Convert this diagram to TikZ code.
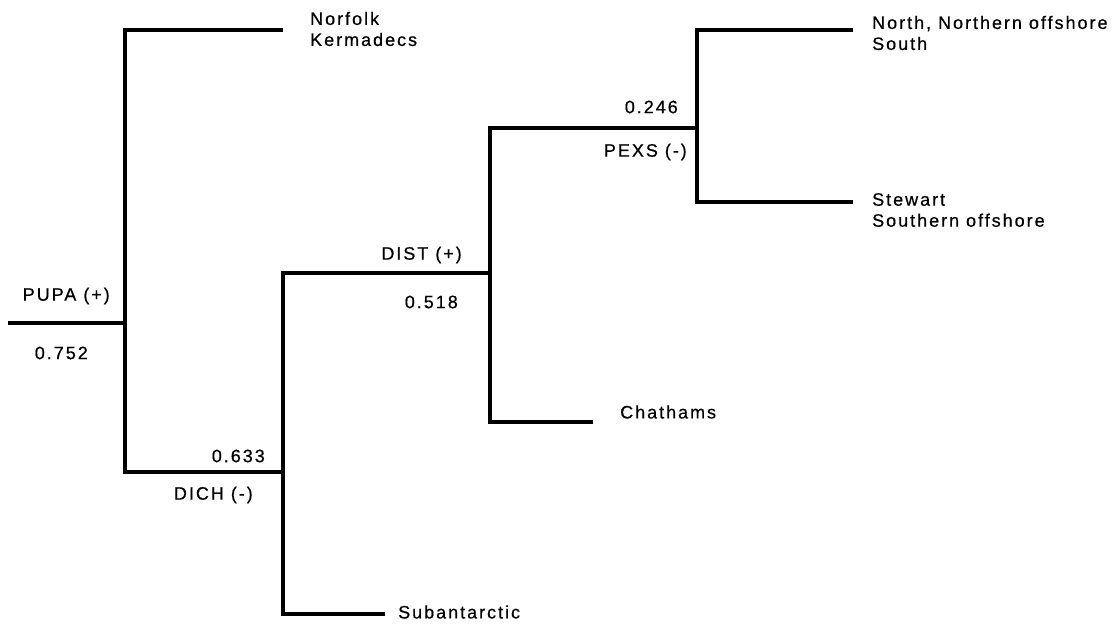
\documentclass[tikz,border=0pt]{standalone}
\usepackage{fontspec}
\setmainfont{Liberation Sans}[LetterSpace=11, FakeBold=0.6]
\usetikzlibrary{positioning}

\tikzset{
  branch/.style={line width=3.2pt, line join=miter},
  leaf/.style={anchor=west, inner sep=0pt, align=left, font=\fontsize{18}{21}\selectfont},
  split/.style={anchor=east, inner sep=0pt, font=\fontsize{18}{21}\selectfont}
}

\begin{document}
\begin{tikzpicture}[x=1pt, y=-1pt]
    \useasboundingbox (0,0) rectangle (1120,628);

    % Junctions
    \coordinate (root) at (8,323);
    \coordinate (n1) at (125,323);
    \coordinate (n2) at (283,472);
    \coordinate (n3) at (490,273);
    \coordinate (n4) at (697,128);

    % Ends of the terminal branches
    \coordinate (eNorfolk) at (283,30);
    \coordinate (eSub) at (385,614);
    \coordinate (eChat) at (593,422);
    \coordinate (eNorth) at (853,30);
    \coordinate (eStew) at (853,202);

    % Branches
    \draw[branch] (root) -- (n1);
    \draw[branch] (n1) |- (eNorfolk);
    \draw[branch] (n1) |- (n2);
    \draw[branch] (n2) |- (n3);
    \draw[branch] (n2) |- (eSub);
    \draw[branch] (n3) |- (n4);
    \draw[branch] (n3) |- (eChat);
    \draw[branch] (n4) |- (eNorth);
    \draw[branch] (n4) |- (eStew);

    % Leaf groups
    \node[leaf] (norfolk) at (310,29) {Norfolk\\Kermadecs};
    \node[leaf] (sub) at (398,612) {Subantarctic};
    \node[leaf] (chat) at (620,412) {Chathams};
    \node[leaf] (north) at (872,33) {North, Northern offshore\\South};
    \node[leaf] (stew) at (872,210) {Stewart\\Southern offshore};

    % Split variables and values
    \node[split] (pupa) at (110,296) {PUPA (+)};
    \node[split] (v1) at (88,353) {0.752};
    \node[split] (v2) at (265,456) {0.633};
    \node[split] (dich) at (253,495) {DICH (-)};
    \node[split] (dist) at (462,255) {DIST (+)};
    \node[split] (v3) at (458,302) {0.518};
    \node[split] (v4) at (678,107) {0.246};
    \node[split] (pexs) at (687,152) {PEXS (-)};
\end{tikzpicture}
\end{document}
